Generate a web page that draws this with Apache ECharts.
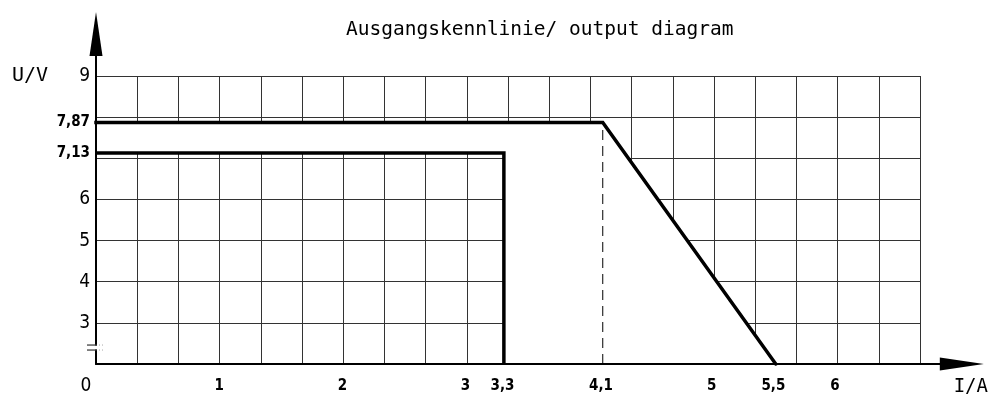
<!DOCTYPE html>
<html>
<head>
<meta charset="utf-8">
<script src="https://cdn.jsdelivr.net/npm/echarts@6/dist/echarts.min.js"></script>
<style>html,body{margin:0;padding:0;background:#fff}#c{width:991px;height:397px}</style>
</head>
<body>
<div id="c"></div>
<script>
// ---- data ----
const titleText = 'Ausgangskennlinie/ output diagram';
const xName = 'I/A';
const yName = 'U/V';
// outer characteristic (constant voltage then foldback)
const outerI = [0, 4.1, 5.5];
const outerU = [7.87, 7.87, 2];
// inner characteristic (rectangular)
const innerI = [0, 3.3, 3.3];
const innerU = [7.13, 7.13, 2];
// dashed helper line at 4.1 A
const dashI = [4.1, 4.1];
const dashU = [2, 7.87];
// tick labels
const xTickValues = [0, 1, 2, 3, 3.3, 4.1, 5, 5.5, 6];
const xTickLabels = ['0', '1', '2', '3', '3,3', '4,1', '5', '5,5', '6'];
const yTickValues = [3, 4, 5, 6, 7.13, 7.87, 9];
const yTickLabels = ['3', '4', '5', '6', '7,13', '7,87', '9'];
// grid extents
const gridIMax = 20 / 3, gridIStep = 1 / 3;
const gridUMin = 2, gridUMax = 9, gridUStep = 1;

const zip = (a, b) => a.map((v, i) => [v, b[i]]);
// region between the two curves (grid erased there)
const polyI = outerI.concat(innerI.slice().reverse());
const polyU = outerU.concat(innerU.slice().reverse());

const MONO = '"DejaVu Sans Mono", monospace';
const COND = '"DejaVu Sans Condensed", "DejaVu Sans", sans-serif';

const chart = echarts.init(document.getElementById('c'), null, {renderer: 'canvas'});

const L = 96, unitX = 123.6, unitY = 41.1428;
const bottomPx = 364;
const axMaxI = 7.03, axMaxU = 10.02;

const option = {
  animation: false,
  backgroundColor: '#fff',
  title: {
    text: titleText, left: 341, top: 15,
    textStyle: {fontFamily: MONO, fontSize: 19.5, fontWeight: 'normal', color: '#000'}
  },
  grid: [
    {left: L, top: bottomPx - (gridUMax - gridUMin) * unitY, width: gridIMax * unitX,
     height: (gridUMax - gridUMin) * unitY, containLabel: false},
    {left: L, top: bottomPx - (axMaxU - gridUMin) * unitY, width: axMaxI * unitX,
     height: (axMaxU - gridUMin) * unitY, containLabel: false}
  ],
  xAxis: [
    {type: 'value', gridIndex: 0, min: 0, max: gridIMax, interval: gridIStep,
     axisLine: {show: false}, axisTick: {show: false}, axisLabel: {show: false},
     splitLine: {show: true, lineStyle: {color: '#333', width: 1}}},
    {type: 'value', gridIndex: 1, min: 0, max: axMaxI, z: 4,
     name: xName, nameLocation: 'end', nameGap: 9,
     nameTextStyle: {fontFamily: MONO, fontSize: 19, color: '#000', align: 'center',
       verticalAlign: 'top', padding: [14, 0, 0, 0]},
     axisLine: {show: true, lineStyle: {color: '#000', width: 2},
       symbol: ['none', 'triangle'], symbolSize: [13, 44]},
     axisTick: {show: false},
     splitLine: {show: false},
     axisLabel: {
       show: true, customValues: xTickValues, margin: 13, hideOverlap: false,
       showMinLabel: true, showMaxLabel: true,
       formatter: function (v) {
         const i = xTickValues.findIndex(t => Math.abs(t - v) < 1e-6);
         const s = i >= 0 ? xTickLabels[i] : '';
         return v === 0 ? '{z|' + s + '}' : '{b|' + s + '}';
       },
       rich: {
         z: {fontFamily: COND, fontSize: 19, color: '#000', padding: [0, 20, 0, 0]},
         b: {fontFamily: COND, fontSize: 15, fontWeight: 'bold', color: '#000', padding: [2, 0, 0, 0]}
       }
     }}
  ],
  yAxis: [
    {type: 'value', gridIndex: 0, min: gridUMin, max: gridUMax, interval: gridUStep,
     axisLine: {show: false}, axisTick: {show: false}, axisLabel: {show: false},
     splitLine: {show: true, lineStyle: {color: '#333', width: 1}}},
    {type: 'value', gridIndex: 1, min: gridUMin, max: axMaxU, z: 4,
     axisLine: {show: true, lineStyle: {color: '#000', width: 2},
       symbol: ['none', 'triangle'], symbolSize: [13, 44]},
     axisTick: {show: false},
     splitLine: {show: false},
     axisLabel: {
       show: true, customValues: yTickValues, margin: 6, hideOverlap: false,
       showMinLabel: true, showMaxLabel: true,
       formatter: function (v) {
         const i = yTickValues.findIndex(t => Math.abs(t - v) < 1e-6);
         const s = i >= 0 ? yTickLabels[i] : '';
         if (s.indexOf(',') >= 0) return '{b|' + s + '}';
         if (v === gridUMax) return '{n|' + yName + '}{sp|}{l|' + s + '}';
         return '{l|' + s + '}';
       },
       rich: {
         l: {fontFamily: COND, fontSize: 19, color: '#000'},
         b: {fontFamily: COND, fontSize: 15, fontWeight: 'bold', color: '#000'},
         n: {fontFamily: MONO, fontSize: 20, color: '#000'},
         sp: {width: 31}
       }
     }}
  ],
  series: [
    {
      type: 'custom', xAxisIndex: 0, yAxisIndex: 0, z: 1, silent: true,
      data: [[0, 0]],
      renderItem: function (params, api) {
        const pts = polyI.map((v, i) => api.coord([v, polyU[i]]));
        return {type: 'polygon', shape: {points: pts}, style: {fill: '#fff', stroke: null}};
      }
    },
    {type: 'line', xAxisIndex: 0, yAxisIndex: 0, z: 3, data: zip(dashI, dashU), symbol: 'none',
     lineStyle: {color: '#000', width: 1, type: [10, 6]}},
    {type: 'line', xAxisIndex: 0, yAxisIndex: 0, z: 5, data: zip(outerI, outerU), symbol: 'none',
     lineStyle: {color: '#000', width: 3.5, cap: 'square', join: 'miter'}},
    {type: 'line', xAxisIndex: 0, yAxisIndex: 0, z: 5, data: zip(innerI, innerU), symbol: 'none',
     lineStyle: {color: '#000', width: 3.5, cap: 'butt', join: 'miter'}}
  ]
};
chart.setOption(option);

// axis-break marker on the U axis
const bp = chart.convertToPixel({xAxisIndex: 1, yAxisIndex: 1}, [0, 2.4]);
const bx = bp[0], by = bp[1];
chart.setOption({
  graphic: [
    {type: 'rect', z: 100, shape: {x: bx - 3, y: by - 2, width: 6, height: 4}, style: {fill: '#fff'}},
    {type: 'line', z: 101, shape: {x1: bx - 9, y1: by - 2.5, x2: bx + 1, y2: by - 2.5}, style: {stroke: '#333', lineWidth: 1.2}},
    {type: 'line', z: 101, shape: {x1: bx - 9, y1: by + 2.5, x2: bx + 1, y2: by + 2.5}, style: {stroke: '#333', lineWidth: 1.2}},
    {type: 'line', z: 101, shape: {x1: bx + 3, y1: by - 2.5, x2: bx + 8, y2: by - 2.5}, style: {stroke: '#aaa', lineWidth: 1, lineDash: [1, 2]}},
    {type: 'line', z: 101, shape: {x1: bx + 3, y1: by + 2.5, x2: bx + 8, y2: by + 2.5}, style: {stroke: '#aaa', lineWidth: 1, lineDash: [1, 2]}}
  ]
});
</script>
</body>
</html>
